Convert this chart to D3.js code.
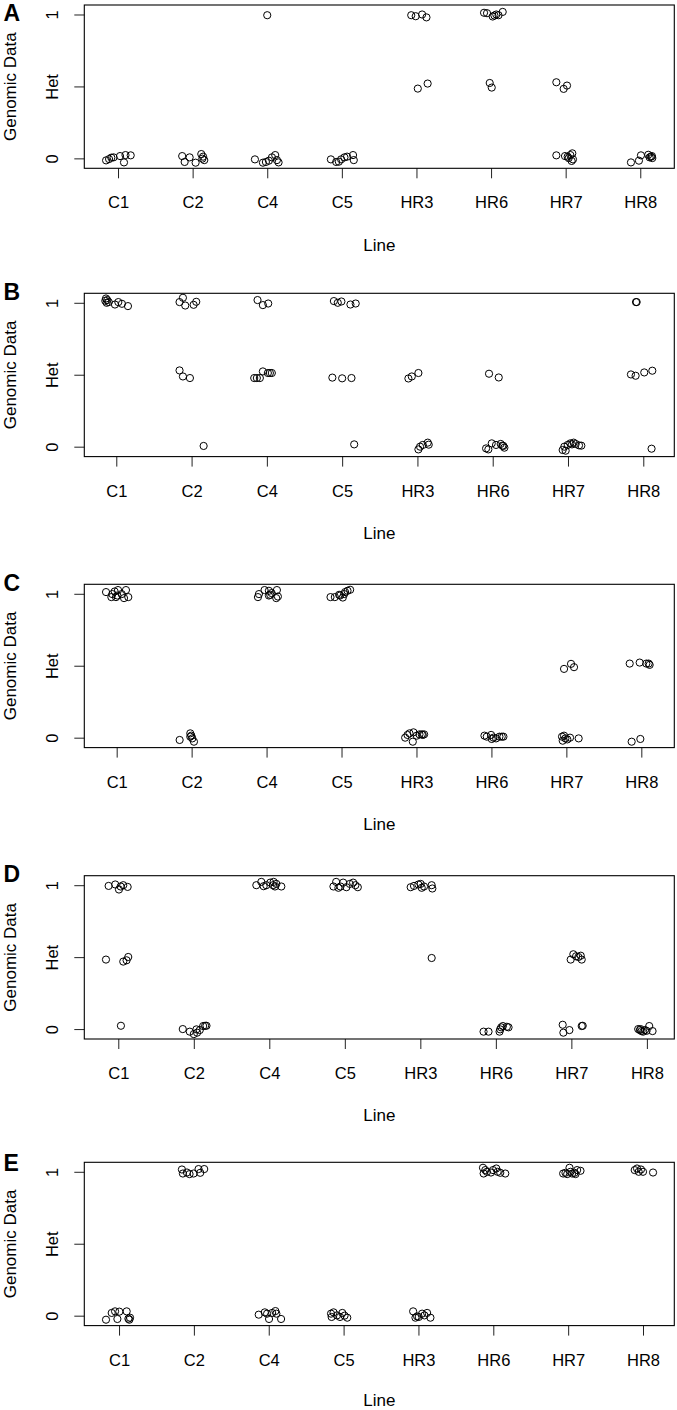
<!DOCTYPE html>
<html>
<head>
<meta charset="utf-8">
<script src="https://cdn.jsdelivr.net/npm/d3@7"></script>
<style>
  html, body { margin: 0; padding: 0; background: #fff; }
  svg { display: block; font-family: "Liberation Sans", Arial, Helvetica, sans-serif; }
</style>
</head>
<body>
<svg id="chart" width="677" height="1410"></svg>
<script>
// ---------- data ----------
const lines = ["C1", "C2", "C4", "C5", "HR3", "HR6", "HR7", "HR8"];
const yTickValues = [0, 0.5, 1];
const yTickLabels = ["0", "Het", "1"];
const panelLetters = ["A", "B", "C", "D", "E"];
const xTitle = "Line";
const yTitle = "Genomic Data";

// each entry: [jitter offset from the line position, genotype value (0 / 0.5 = Het / 1, jittered)]
const panelA = {
  C1: [[-0.16,-0.014],[-0.12,-0.005],[-0.09,0.005],[-0.06,0.007],[0.027,0.016],[0.08,-0.028],[0.10,0.023],[0.17,0.021]],
  C2: [[-0.14,0.016],[-0.107,-0.025],[-0.04,0.007],[0.04,-0.03],[0.116,0.03],[0.14,0.012],[0.156,-0.012],[0.13,-0.002]],
  C4: [[-0.165,-0.007],[-0.058,-0.03],[-0.018,-0.025],[0.022,-0.016],[0.063,0.007],[0.107,0.023],[0.13,-0.012],[0.152,-0.028],[0.0,0.995]],
  C5: [[-0.147,-0.007],[-0.076,-0.025],[-0.04,-0.023],[-0.01,-0.007],[0.035,0.007],[0.07,0.012],[0.15,0.023],[0.16,-0.012]],
  HR3: [[-0.07,0.995],[-0.01,0.988],[0.076,1.0],[0.134,0.98],[0.018,0.485],[0.15,0.52]],
  HR6: [[-0.094,1.012],[-0.054,1.009],[0.022,0.986],[0.045,0.993],[0.07,1.0],[0.1,0.995],[0.156,1.018],[-0.018,0.524],[0.009,0.492]],
  HR7: [[-0.125,0.529],[-0.027,0.483],[0.018,0.506],[-0.125,0.021],[-0.009,0.016],[0.027,0.012],[0.063,0.023],[0.089,0.035],[0.098,-0.007],[0.08,-0.018],[0.04,0.002]],
  HR8: [[-0.125,-0.028],[-0.018,-0.016],[0.009,0.021],[0.107,0.025],[0.143,0.012],[0.161,0.002],[0.125,0.007],[0.156,0.016]]
};
const panelB = {
  C1: [[-0.137,1.03],[-0.12,1.019],[-0.1,1.005],[-0.128,1.0],[-0.018,0.988],[0.027,1.005],[0.075,0.993],[0.155,0.977],[-0.146,1.014]],
  C2: [[-0.16,1.005],[-0.115,1.035],[-0.084,0.981],[0.027,0.986],[0.062,1.007],[-0.16,0.53],[-0.115,0.488],[-0.022,0.477],[0.16,0.005]],
  C4: [[-0.124,1.019],[-0.053,0.984],[0.018,0.995],[-0.168,0.477],[-0.133,0.477],[-0.093,0.477],[-0.053,0.523],[0.013,0.512],[0.04,0.512],[0.066,0.512]],
  C5: [[-0.11,1.012],[-0.058,1.0],[-0.01,1.009],[0.11,0.988],[0.18,0.995],[-0.13,0.48],[0.0,0.475],[0.124,0.477],[0.16,0.016]],
  HR3: [[-0.12,0.474],[-0.075,0.488],[0.013,0.512],[0.013,-0.019],[0.035,0.0],[0.071,0.012],[0.137,0.028],[0.15,0.014]],
  HR6: [[-0.049,0.507],[0.08,0.481],[-0.088,-0.012],[-0.058,-0.019],[-0.013,0.023],[0.044,0.012],[0.106,0.019],[0.142,0.005],[0.155,-0.007],[0.128,0.007]],
  HR7: [[-0.071,-0.023],[-0.031,-0.028],[-0.049,0.0],[-0.004,0.012],[0.031,0.023],[0.075,0.028],[0.102,0.019],[0.146,0.009],[0.177,0.007],[0.053,0.016]],
  HR8: [[-0.097,1.005],[-0.088,1.005],[-0.164,0.502],[-0.102,0.493],[0.013,0.516],[0.12,0.528],[0.11,-0.014]]
};
const panelC = {
  C1: [[-0.142,1.012],[-0.058,0.998],[-0.071,0.977],[-0.027,1.016],[0.009,0.988],[0.018,1.026],[-0.009,0.977],[0.067,0.998],[0.124,1.026],[0.098,0.97],[0.155,0.977]],
  C2: [[-0.16,-0.016],[-0.018,0.03],[-0.004,0.014],[0.009,-0.005],[0.031,-0.028],[-0.018,0.007]],
  C4: [[-0.115,0.977],[-0.102,0.998],[-0.027,1.026],[0.031,1.021],[0.049,0.993],[0.031,0.988],[0.067,1.005],[0.138,1.026],[0.151,0.981],[0.129,0.97]],
  C5: [[-0.147,0.977],[-0.089,0.977],[-0.032,0.993],[-0.019,0.988],[0.017,0.974],[0.035,0.998],[0.048,1.012],[0.08,1.021],[0.115,1.028]],
  HR3: [[-0.151,0.0],[-0.12,0.019],[-0.093,0.03],[-0.049,-0.028],[-0.04,0.037],[0.004,0.014],[0.04,0.023],[0.071,0.023],[0.102,0.023],[0.084,0.019]],
  HR6: [[-0.093,0.014],[-0.062,0.007],[-0.004,0.019],[0.027,0.0],[0.062,-0.005],[0.107,0.007],[0.138,0.007],[0.16,0.007],[0.004,-0.009]],
  HR7: [[-0.031,0.478],[0.062,0.513],[0.102,0.49],[-0.058,0.007],[-0.049,-0.021],[-0.013,-0.005],[0.013,-0.012],[0.049,0.0],[0.164,-0.005],[-0.031,0.014]],
  HR8: [[-0.155,0.515],[-0.022,0.522],[0.067,0.515],[0.111,0.506],[0.098,0.515],[-0.129,-0.028],[-0.013,-0.009]]
};
const panelD = {
  C1: [[-0.128,0.995],[-0.04,1.005],[0.009,0.97],[0.031,0.991],[0.066,1.0],[0.124,0.988],[-0.163,0.483],[0.066,0.469],[0.11,0.478],[0.132,0.501],[0.035,0.023]],
  C2: [[-0.146,0.0],[-0.053,-0.018],[0.0,-0.035],[0.044,-0.025],[0.035,-0.002],[0.079,-0.007],[0.124,0.021],[0.15,0.023],[0.168,0.023]],
  C4: [[-0.172,1.0],[-0.106,1.023],[-0.075,0.993],[-0.04,1.0],[0.013,1.018],[0.057,1.023],[0.075,0.991],[0.093,1.009],[0.159,0.991],[0.049,1.0]],
  C5: [[-0.151,0.991],[-0.115,1.023],[-0.085,0.982],[-0.058,0.991],[-0.022,1.018],[0.021,0.986],[0.066,1.009],[0.11,1.018],[0.14,1.0],[0.172,0.986]],
  HR3: [[-0.128,0.986],[-0.084,0.995],[-0.026,1.005],[0.004,1.009],[0.018,0.982],[0.049,0.991],[0.15,1.0],[0.159,0.977],[0.15,0.494]],
  HR6: [[-0.163,-0.018],[-0.097,-0.018],[0.049,-0.018],[0.057,-0.002],[0.071,0.012],[0.146,0.016],[0.168,0.012],[0.093,0.021]],
  HR7: [[-0.009,0.483],[0.026,0.52],[0.062,0.506],[0.124,0.51],[0.137,0.483],[0.093,0.501],[-0.115,0.03],[-0.106,-0.025],[-0.026,-0.007],[0.137,0.021],[0.15,0.023]],
  HR8: [[-0.115,0.0],[-0.093,-0.007],[-0.071,-0.014],[-0.049,-0.018],[-0.026,-0.007],[-0.004,-0.012],[0.031,0.021],[0.075,-0.014],[-0.084,0.0]]
};
const panelE = {
  C1: [[-0.174,-0.028],[-0.098,0.019],[-0.053,0.03],[-0.022,-0.023],[0.004,0.028],[0.102,0.03],[0.125,-0.021],[0.147,-0.014],[0.138,-0.028]],
  C2: [[-0.16,1.016],[-0.147,0.988],[-0.093,0.995],[-0.058,0.984],[-0.004,0.988],[0.062,1.019],[0.085,0.993],[0.138,1.019]],
  C4: [[-0.134,0.007],[-0.053,0.023],[-0.022,0.014],[0.004,-0.023],[0.045,0.019],[0.089,0.032],[0.102,0.014],[0.165,-0.023]],
  C5: [[-0.168,0.014],[-0.16,-0.009],[-0.134,0.023],[-0.088,0.002],[-0.048,-0.009],[-0.017,0.019],[0.013,0.0],[0.049,-0.014]],
  HR3: [[-0.071,0.03],[-0.04,-0.014],[0.004,-0.009],[0.049,0.014],[0.08,0.002],[0.116,0.019],[0.16,-0.014],[-0.018,-0.005]],
  HR6: [[-0.138,1.028],[-0.129,0.988],[-0.085,1.0],[-0.031,0.995],[-0.004,1.012],[0.04,1.023],[0.058,1.0],[0.093,0.993],[0.16,0.988],[-0.107,1.012]],
  HR7: [[-0.067,0.988],[-0.036,0.993],[-0.013,0.984],[0.018,1.028],[0.031,1.0],[0.053,0.988],[0.085,0.993],[0.12,1.012],[0.165,1.007],[0.098,0.984]],
  HR8: [[-0.111,1.012],[-0.08,1.023],[-0.058,1.0],[-0.027,1.016],[0.0,1.0],[0.134,0.995]]
};
const panels = [panelA, panelB, panelC, panelD, panelE];

// ---------- layout ----------
const boxLeft = 84.3, boxRight = 674.3, boxH = 163.3;
const panelTops = [5, 293.3, 584.3, 875.7, 1162.3];
const letterBaselines = [20.5, 300, 590.5, 881.5, 1170.5];
const xDomains = [[0.548, 8.456], [0.575, 8.412], [0.568, 8.44], [0.55, 8.363], [0.536, 8.418]];
const yDomain = [-0.069, 1.066];
const tickFont = 16.5, titleFont = 17;

const svg = d3.select("#chart");

panels.forEach((panel, i) => {
  const top = panelTops[i];
  const bottom = top + boxH;
  const x = d3.scaleLinear().domain(xDomains[i]).range([boxLeft, boxRight]);
  const y = d3.scaleLinear().domain(yDomain).range([bottom, top]);
  const g = svg.append("g");

  // x axis
  const xa = g.append("g")
    .attr("transform", `translate(0,${bottom})`)
    .call(d3.axisBottom(x).tickValues(d3.range(1, lines.length + 1))
      .tickFormat(v => lines[v - 1]).tickSize(10).tickSizeOuter(0));
  xa.select(".domain").remove();
  xa.selectAll(".tick line").attr("stroke", "#222").attr("stroke-width", 1);
  xa.selectAll(".tick text")
    .attr("y", 40).attr("dy", 0)
    .attr("fill", "#000")
    .style("font-size", tickFont + "px")
    .style("font-family", "'Liberation Sans', Arial, sans-serif");

  // y axis
  const ya = g.append("g")
    .attr("transform", `translate(${boxLeft},0)`)
    .call(d3.axisLeft(y).tickValues(yTickValues)
      .tickFormat((v, k) => yTickLabels[k]).tickSize(10).tickSizeOuter(0));
  ya.select(".domain").remove();
  ya.selectAll(".tick line").attr("stroke", "#222").attr("stroke-width", 1);
  ya.selectAll(".tick text")
    .attr("x", 0).attr("dy", 0)
    .attr("text-anchor", "middle")
    .attr("transform", "translate(-26,0) rotate(-90)")
    .attr("fill", "#000")
    .style("font-size", tickFont + "px")
    .style("font-family", "'Liberation Sans', Arial, sans-serif");

  // plot box
  g.append("rect")
    .attr("x", boxLeft).attr("y", top)
    .attr("width", boxRight - boxLeft).attr("height", boxH)
    .attr("fill", "none").attr("stroke", "#000").attr("stroke-width", 1.1);

  // points
  const pts = [];
  lines.forEach((ln, li) => {
    (panel[ln] || []).forEach(p => pts.push({ xv: li + 1 + p[0], yv: p[1] }));
  });
  g.append("g").selectAll("circle").data(pts).join("circle")
    .attr("cx", d => x(d.xv))
    .attr("cy", d => y(d.yv))
    .attr("r", 3.6)
    .attr("fill", "none")
    .attr("stroke", "#000")
    .attr("stroke-width", 1);

  // titles
  g.append("text")
    .attr("x", (boxLeft + boxRight) / 2).attr("y", Math.min(bottom + 82.4, 1406))
    .attr("text-anchor", "middle")
    .style("font-size", titleFont + "px")
    .text(xTitle);
  g.append("text")
    .attr("transform", `translate(16,${top + boxH / 2}) rotate(-90)`)
    .attr("text-anchor", "middle")
    .style("font-size", titleFont + "px")
    .text(yTitle);

  // panel letter
  g.append("text")
    .attr("x", 3.5).attr("y", letterBaselines[i])
    .style("font-size", "23px").style("font-weight", "bold")
    .text(panelLetters[i]);
});
</script>
</body>
</html>
